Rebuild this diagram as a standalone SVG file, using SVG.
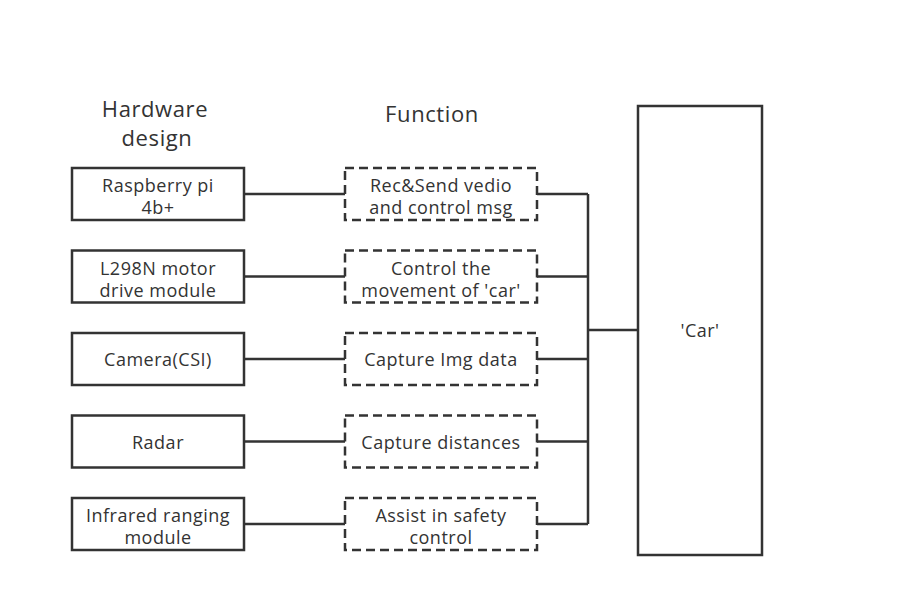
<svg xmlns="http://www.w3.org/2000/svg" width="913" height="606" viewBox="0 0 913 606">
<style>
text{font-family:"Open Sans","Noto Sans","DejaVu Sans",sans-serif;fill:#333;text-anchor:middle;}
.t{font-size:18px;letter-spacing:0.5px;}
.h{font-size:22px;letter-spacing:0.6px;}
.box{fill:#fff;stroke:#333;stroke-width:2.5;}
.dash{fill:#fff;stroke:#333;stroke-width:2.5;stroke-dasharray:9 5;}
.ln{fill:none;stroke:#333;stroke-width:2.5;}
</style>
<rect width="913" height="606" fill="#fff"/>
<g id="titles">
<text class="h" x="155" y="117">Hardware</text>
<text class="h" x="157" y="146">design</text>
<text class="h" x="432" y="122">Function</text>
</g>
<g id="connectors">
<path class="ln" d="M244 194H345M244 276.5H345M244 359H345M244 441.5H345M244 524H345"/>
<path class="ln" d="M537 194H588M537 276.5H588M537 359H588M537 441.5H588M537 524H588M588 194V524M588 330H638"/>
</g>
<g id="hw1"><rect class="box" x="72" y="168" width="172" height="52"/><text class="t" x="158" y="192">Raspberry pi</text><text class="t" x="158" y="214">4b+</text></g>
<g id="hw2"><rect class="box" x="72" y="250.5" width="172" height="52"/><text class="t" x="158" y="274.5">L298N motor</text><text class="t" x="158" y="296.5">drive module</text></g>
<g id="hw3"><rect class="box" x="72" y="333" width="172" height="52"/><text class="t" x="158" y="366">Camera(CSI)</text></g>
<g id="hw4"><rect class="box" x="72" y="415.5" width="172" height="52"/><text class="t" x="158" y="448.5">Radar</text></g>
<g id="hw5"><rect class="box" x="72" y="498" width="172" height="52"/><text class="t" x="158" y="522">Infrared ranging</text><text class="t" x="158" y="544">module</text></g>
<g id="fn1"><rect class="dash" x="345" y="168" width="192" height="52"/><text class="t" x="441" y="192">Rec&amp;Send vedio</text><text class="t" x="441" y="214">and control msg</text></g>
<g id="fn2"><rect class="dash" x="345" y="250.5" width="192" height="52"/><text class="t" x="441" y="274.5">Control the</text><text class="t" x="441" y="296.5">movement of 'car'</text></g>
<g id="fn3"><rect class="dash" x="345" y="333" width="192" height="52"/><text class="t" x="441" y="366">Capture Img data</text></g>
<g id="fn4"><rect class="dash" x="345" y="415.5" width="192" height="52"/><text class="t" x="441" y="448.5">Capture distances</text></g>
<g id="fn5"><rect class="dash" x="345" y="498" width="192" height="52"/><text class="t" x="441" y="522">Assist in safety</text><text class="t" x="441" y="544">control</text></g>
<g id="car"><rect class="box" x="638" y="106" width="124" height="449"/><text class="t" x="700" y="337">'Car'</text></g>
</svg>
